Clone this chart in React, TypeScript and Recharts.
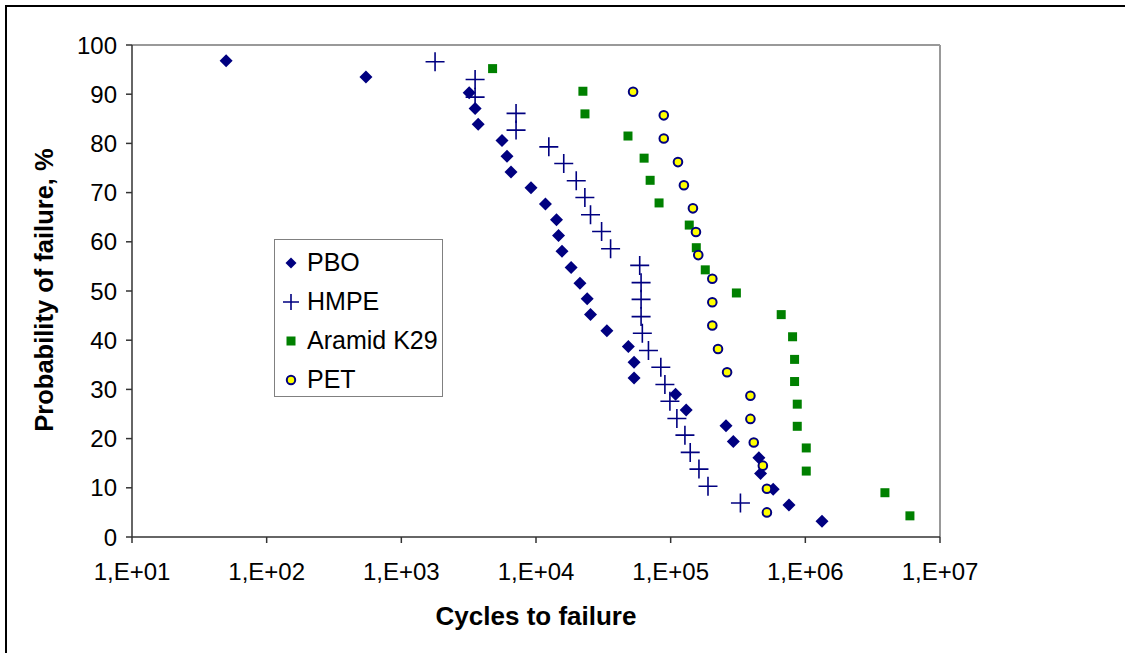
import React from 'react';
import { ScatterChart, Scatter, XAxis, YAxis, ReferenceLine, Legend, Label } from 'recharts';

const xTicks = [1e1, 1e2, 1e3, 1e4, 1e5, 1e6, 1e7];
const yTicks = [0, 10, 20, 30, 40, 50, 60, 70, 80, 90, 100];

const pboCycles = [50, 546, 3190, 3530, 3720, 5590, 6090, 6520, 9180, 11750, 14200, 14700, 15600, 18240, 21200, 24000, 25400, 33600, 48500, 53500, 53500, 108700, 130400, 257500, 292000, 452000, 465000, 577000, 756000, 1330000];
const pboProb = [96.8, 93.5, 90.3, 87.1, 83.9, 80.6, 77.4, 74.2, 71.0, 67.7, 64.5, 61.3, 58.1, 54.8, 51.6, 48.4, 45.2, 41.9, 38.7, 35.5, 32.3, 29.0, 25.8, 22.6, 19.4, 16.1, 12.9, 9.7, 6.5, 3.2];

const hmpeCycles = [1780, 3530, 3530, 7110, 7110, 12450, 16070, 19900, 23060, 25400, 30700, 35800, 58900, 60300, 60300, 60300, 61600, 68400, 84500, 90600, 98700, 111200, 127600, 139700, 162200, 189300, 329700];
const hmpeProb = [96.6, 93.0, 89.4, 86.1, 82.7, 79.3, 75.9, 72.4, 69.0, 65.5, 62.1, 58.6, 55.2, 51.7, 48.3, 44.8, 41.4, 37.9, 34.5, 31.0, 27.6, 24.1, 20.7, 17.2, 13.8, 10.3, 6.9];

const aramidCycles = [4760, 22300, 23100, 48200, 63500, 70400, 82000, 137400, 155000, 180700, 307600, 662000, 804000, 832000, 832000, 871000, 871000, 1016000, 1016000, 3900000, 5980000];
const aramidProb = [95.2, 90.6, 86.0, 81.5, 77.0, 72.5, 67.9, 63.4, 58.8, 54.3, 49.6, 45.2, 40.7, 36.1, 31.6, 27.0, 22.5, 18.1, 13.4, 9.0, 4.3];

const petCycles = [52600, 88900, 88900, 113300, 125400, 146300, 154100, 160300, 203800, 203800, 203800, 224700, 262400, 391000, 391000, 414000, 483700, 518400, 518400];
const petProb = [90.5, 85.7, 81.0, 76.2, 71.5, 66.8, 62.0, 57.3, 52.5, 47.7, 43.0, 38.2, 33.5, 28.7, 24.0, 19.2, 14.5, 9.8, 5.0];

const toPoints = (cycles: number[], prob: number[]) =>
  cycles.map((c, i) => ({ cycles: c, prob: prob[i] }));

const NAVY = '#000080';
const GREEN = '#008000';
const FONT = '"Liberation Sans", Arial, sans-serif';

const Diamond = ({ cx, cy, r = 6.5 }: any) => (
  <polygon points={`${cx},${cy - r} ${cx + r},${cy} ${cx},${cy + r} ${cx - r},${cy}`} fill={NAVY} />
);
const Cross = ({ cx, cy, r = 9.5 }: any) => (
  <path d={`M${cx - r},${cy}H${cx + r}M${cx},${cy - r}V${cy + r}`} stroke={NAVY} strokeWidth={1.6} fill="none" />
);
const Square = ({ cx, cy, r = 4.5 }: any) => (
  <rect x={cx - r} y={cy - r} width={2 * r} height={2 * r} fill={GREEN} />
);
const Ring = ({ cx, cy, r = 4.3 }: any) => (
  <circle cx={cx} cy={cy} r={r} fill="#ffff00" stroke={NAVY} strokeWidth={2} />
);

const legendItems = [
  { name: 'PBO', mark: (cx: number, cy: number) => <Diamond cx={cx} cy={cy} r={5.5} /> },
  { name: 'HMPE', mark: (cx: number, cy: number) => <Cross cx={cx} cy={cy} r={8} /> },
  { name: 'Aramid K29', mark: (cx: number, cy: number) => <Square cx={cx} cy={cy} r={4.5} /> },
  { name: 'PET', mark: (cx: number, cy: number) => <Ring cx={cx} cy={cy} r={4.2} /> },
];

const LegendBox = () => (
  <div style={{ width: 169, height: 158, border: '1.5px solid #808080', background: '#fff', boxSizing: 'border-box', paddingTop: 3 }}>
    {legendItems.map((it) => (
      <div key={it.name} style={{ display: 'flex', alignItems: 'center', height: 39 }}>
        <svg width={32} height={20} style={{ flex: 'none' }}>
          {it.mark(16, 10)}
        </svg>
        <span style={{ fontSize: 25, color: '#000', fontFamily: FONT, lineHeight: '25px' }}>{it.name}</span>
      </div>
    ))}
  </div>
);

const fmtX = (v: number) => `1,E+0${Math.round(Math.log10(v))}`;

export default function App() {
  return (
    <div style={{ position: 'absolute', left: 0, top: 0, width: 1125, height: 653, overflow: 'hidden', background: '#fff', fontFamily: FONT }}>
      <div style={{ position: 'absolute', left: 5, top: 5, width: 1200, height: 800, border: '2px solid #000' }} />
      <div style={{ position: 'absolute', left: 0, top: 0 }}>
        <ScatterChart width={1125} height={653} margin={{ top: 45, right: 185, left: 0, bottom: 56 }}>
          <XAxis
            type="number"
            dataKey="cycles"
            scale="log"
            domain={[10, 1e7]}
            ticks={xTicks}
            tickFormatter={fmtX}
            allowDataOverflow
            height={60}
            axisLine={{ stroke: '#333', strokeWidth: 1.5 }}
            tickLine={{ stroke: '#333', strokeWidth: 1.5 }}
            tickSize={6}
            tickMargin={20}
            tick={{ fill: '#000', fontSize: 24 }}
          >
            <Label
              content={({ viewBox }: any) => (
                <text x={viewBox.x + viewBox.width / 2} y={viewBox.y + 88} textAnchor="middle" fontSize={26} fontWeight="bold" fill="#000">
                  Cycles to failure
                </text>
              )}
            />
          </XAxis>
          <YAxis
            type="number"
            dataKey="prob"
            domain={[0, 100]}
            ticks={yTicks}
            width={132}
            axisLine={{ stroke: '#333', strokeWidth: 1.5 }}
            tickLine={{ stroke: '#333', strokeWidth: 1.5 }}
            tickSize={6}
            tickMargin={9}
            tick={{ fill: '#000', fontSize: 24 }}
          >
            <Label
              content={({ viewBox }: any) => {
                const x = viewBox.x + 53;
                const y = viewBox.y + viewBox.height / 2 - 1;
                return (
                  <text x={x} y={y} transform={`rotate(-90 ${x} ${y})`} textAnchor="middle" fontSize={25.5} fontWeight="bold" fill="#000">
                    Probability of failure, %
                  </text>
                );
              }}
            />
          </YAxis>
          <ReferenceLine y={100} stroke="#999" strokeWidth={2} ifOverflow="visible" />
          <ReferenceLine x={1e7} stroke="#999" strokeWidth={2} ifOverflow="visible" />
          <Legend
            layout="vertical"
            align="center"
            verticalAlign="middle"
            wrapperStyle={{ left: 274, top: 239, width: 169 }}
            content={() => <LegendBox />}
          />
          <Scatter name="PBO" data={toPoints(pboCycles, pboProb)} shape={(p: any) => <Diamond cx={p.cx} cy={p.cy} />} isAnimationActive={false} />
          <Scatter name="HMPE" data={toPoints(hmpeCycles, hmpeProb)} shape={(p: any) => <Cross cx={p.cx} cy={p.cy} />} isAnimationActive={false} />
          <Scatter name="Aramid K29" data={toPoints(aramidCycles, aramidProb)} shape={(p: any) => <Square cx={p.cx} cy={p.cy} />} isAnimationActive={false} />
          <Scatter name="PET" data={toPoints(petCycles, petProb)} shape={(p: any) => <Ring cx={p.cx} cy={p.cy} />} isAnimationActive={false} />
        </ScatterChart>
      </div>
    </div>
  );
}
